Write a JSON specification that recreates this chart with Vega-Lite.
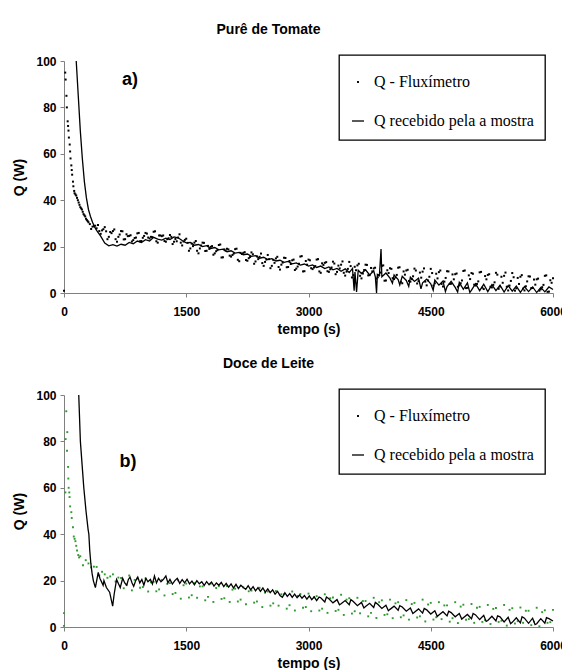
{
  "$schema": "https://vega.github.io/schema/vega-lite/v6.json",
  "background": "white",
  "padding": {"left": 12, "top": 23, "right": 0, "bottom": 0},
  "spacing": 21,
  "config": {
    "view": {"stroke": null},
    "font": "Liberation Sans",
    "axis": {"grid": false, "domainColor": "#808080", "domainWidth": 1, "tickColor": "#808080", "tickSize": 4, "labelFont": "Liberation Sans", "labelFontSize": 12, "labelFontWeight": "bold", "labelColor": "#000000", "titleFont": "Liberation Sans", "titleFontSize": 14, "titleFontWeight": "bold", "titleColor": "#000000", "format": "d"},
    "axisX": {"labelPadding": 9, "titlePadding": 5, "labelFlush": false},
    "axisY": {"labelPadding": 4, "titlePadding": 9},
    "title": {"font": "Liberation Sans", "fontSize": 14, "fontWeight": "bold", "color": "#000000", "anchor": "middle", "frame": "group", "dx": -40, "offset": 17},
    "legend": {"orient": "none", "legendX": 275, "legendY": -6, "strokeColor": "#000000", "strokeWidth": 1.3, "fillColor": "white", "padding": 11, "rowPadding": 23, "titleFontSize": 6, "titlePadding": 2, "labelFont": "Liberation Serif", "labelFontSize": 16, "labelColor": "#000000", "labelOffset": 8, "labelExpr": "datum.label + '\u2002\u2009'", "symbolSize": 144, "symbolStrokeWidth": 1.3, "symbolFillColor": "#000000", "symbolStrokeColor": "#000000"}
  },
  "resolve": {"scale": {"shape": "independent"}, "legend": {"shape": "independent"}},
  "datasets": {
    "fa": [
      {"t":0,"q":1},{"t":15,"q":95},{"t":20,"q":92},{"t":30,"q":85},{"t":35,"q":80},{"t":45,"q":74},{"t":50,"q":72},{"t":55,"q":70},{"t":60,"q":67},{"t":70,"q":64},{"t":75,"q":61},{"t":80,"q":58},{"t":90,"q":55},{"t":95,"q":53},{"t":100,"q":51},{"t":110,"q":48},{"t":115,"q":46},{"t":125,"q":44},{"t":130,"q":43},{"t":140,"q":42.5},{"t":150,"q":42},{"t":160,"q":41},{"t":170,"q":40},{"t":180,"q":39},{"t":190,"q":38},{"t":200,"q":37},{"t":210,"q":36.5},{"t":220,"q":36},{"t":230,"q":35},{"t":240,"q":34},{"t":250,"q":33.5},{"t":260,"q":33},{"t":270,"q":32},{"t":280,"q":31.5},{"t":290,"q":31},
      {"t":300,"q":30.5},{"t":333,"q":27.6},{"t":367,"q":28.8},{"t":400,"q":27.9},{"t":433,"q":26.7},{"t":467,"q":27.0},{"t":500,"q":28.4},{"t":533,"q":23.2},{"t":567,"q":26.3},{"t":600,"q":26.7},{"t":633,"q":23.2},{"t":667,"q":24.2},{"t":700,"q":26.7},{"t":733,"q":23.1},{"t":767,"q":25.3},{"t":800,"q":24.6},{"t":833,"q":22.2},{"t":867,"q":23.7},{"t":900,"q":25.7},{"t":933,"q":22.3},{"t":967,"q":23.8},{"t":1000,"q":25.9},{"t":1033,"q":23.9},{"t":1067,"q":24.2},{"t":1100,"q":26.4},{"t":1133,"q":22.3},{"t":1167,"q":24.8},{"t":1200,"q":24.5},{"t":1233,"q":22.4},{"t":1267,"q":23.2},{"t":1300,"q":25.0},{"t":1333,"q":21.1},{"t":1367,"q":23.3},{"t":1400,"q":23.9},{"t":1433,"q":21.7},{"t":1467,"q":22.2},{"t":1500,"q":23.4},{"t":1533,"q":18.2},{"t":1567,"q":21.3},{"t":1600,"q":21.7},{"t":1633,"q":18.2},{"t":1667,"q":19.2},{"t":1700,"q":21.7},{"t":1733,"q":18.1},{"t":1767,"q":20.3},{"t":1800,"q":19.9},{"t":1833,"q":16.5},{"t":1867,"q":18.0},{"t":1900,"q":20.7},{"t":1933,"q":15.3},{"t":1967,"q":18.8},{"t":2000,"q":19.1},{"t":2033,"q":16.1},{"t":2067,"q":16.4},{"t":2100,"q":18.9},{"t":2133,"q":14.3},{"t":2167,"q":17.3},{"t":2200,"q":17.3},{"t":2233,"q":14.2},{"t":2267,"q":15.0},{"t":2300,"q":17.5},{"t":2333,"q":12.6},{"t":2367,"q":15.8},{"t":2400,"q":15.6},{"t":2433,"q":12.9},{"t":2467,"q":13.4},{"t":2500,"q":16.4},{"t":2533,"q":10.7},{"t":2567,"q":14.3},{"t":2600,"q":14.9},{"t":2633,"q":11.2},{"t":2667,"q":12.2},{"t":2700,"q":15.2},{"t":2733,"q":11.1},{"t":2767,"q":13.8},{"t":2800,"q":14.1},{"t":2833,"q":9.9},{"t":2867,"q":11.4},{"t":2900,"q":15.7},{"t":2933,"q":9.3},{"t":2967,"q":13.8},{"t":3000,"q":14.4},{"t":3033,"q":10.7},{"t":3067,"q":11.0},{"t":3100,"q":14.4},{"t":3133,"q":9.3},{"t":3167,"q":12.8},{"t":3200,"q":13.0},{"t":3233,"q":9.4},{"t":3267,"q":10.2},{"t":3300,"q":13.5},{"t":3333,"q":8.1},{"t":3367,"q":11.8},{"t":3400,"q":12.2},{"t":3433,"q":8.7},{"t":3467,"q":9.2},{"t":3500,"q":13.4},{"t":3533,"q":6.7},{"t":3567,"q":11.3},{"t":3600,"q":11.9},{"t":3633,"q":7.4},{"t":3667,"q":8.4},{"t":3700,"q":12.2},{"t":3733,"q":7.6},{"t":3767,"q":10.8},{"t":3800,"q":10.6},{"t":3833,"q":6.2},{"t":3867,"q":7.7},{"t":3900,"q":11.7},{"t":3933,"q":5.3},{"t":3967,"q":9.8},{"t":4000,"q":10.7},{"t":4033,"q":6.4},{"t":4067,"q":6.7},{"t":4100,"q":10.9},{"t":4133,"q":4.8},{"t":4167,"q":9.3},{"t":4200,"q":9.7},{"t":4233,"q":5.2},{"t":4267,"q":6.0},{"t":4300,"q":10.5},{"t":4333,"q":4.1},{"t":4367,"q":8.8},{"t":4400,"q":9.2},{"t":4433,"q":4.9},{"t":4467,"q":5.4},{"t":4500,"q":10.4},{"t":4533,"q":3.2},{"t":4567,"q":8.3},{"t":4600,"q":9.0},{"t":4633,"q":3.9},{"t":4667,"q":4.9},{"t":4700,"q":9.4},{"t":4733,"q":3.9},{"t":4767,"q":8.0},{"t":4800,"q":8.1},{"t":4833,"q":2.7},{"t":4867,"q":4.2},{"t":4900,"q":9.5},{"t":4933,"q":2.1},{"t":4967,"q":7.6},{"t":5000,"q":8.6},{"t":5033,"q":3.6},{"t":5067,"q":3.9},{"t":5100,"q":8.9},{"t":5133,"q":2.3},{"t":5167,"q":7.3},{"t":5200,"q":7.8},{"t":5233,"q":2.7},{"t":5267,"q":3.5},{"t":5300,"q":8.7},{"t":5333,"q":1.8},{"t":5367,"q":7.0},{"t":5400,"q":7.4},{"t":5433,"q":2.7},{"t":5467,"q":3.2},{"t":5500,"q":8.6},{"t":5533,"q":1.0},{"t":5567,"q":6.5},{"t":5600,"q":7.0},{"t":5633,"q":1.9},{"t":5667,"q":2.9},{"t":5700,"q":7.2},{"t":5733,"q":2.1},{"t":5767,"q":5.8},{"t":5800,"q":5.9},{"t":5833,"q":1.0},{"t":5867,"q":2.5},{"t":5900,"q":7.4},{"t":5933,"q":0.5},{"t":5967,"q":5.5},{"t":6000,"q":6.4},
      {"t":317,"q":29.7},{"t":350,"q":28.6},{"t":383,"q":29.0},{"t":417,"q":29.3},{"t":450,"q":25.5},{"t":483,"q":27.5},{"t":517,"q":26.6},{"t":550,"q":24.2},{"t":583,"q":25.8},{"t":617,"q":27.4},{"t":650,"q":22.1},{"t":683,"q":25.2},{"t":717,"q":26.6},{"t":750,"q":23.2},{"t":783,"q":24.5},{"t":817,"q":24.9},{"t":850,"q":22.8},{"t":883,"q":23.9},{"t":917,"q":25.9},{"t":950,"q":22.4},{"t":983,"q":24.6},{"t":1017,"q":25.6},{"t":1050,"q":23.5},{"t":1083,"q":24.1},{"t":1117,"q":26.6},{"t":1150,"q":21.7},{"t":1183,"q":24.8},{"t":1217,"q":24.8},{"t":1250,"q":22.1},{"t":1283,"q":23.6},{"t":1317,"q":24.2},{"t":1350,"q":22.1},{"t":1383,"q":22.3},{"t":1417,"q":25.3},{"t":1450,"q":20.5},{"t":1483,"q":22.9},{"t":1517,"q":21.6},{"t":1550,"q":19.2},{"t":1583,"q":20.2},{"t":1617,"q":22.4},{"t":1650,"q":17.1},{"t":1683,"q":20.5},{"t":1717,"q":21.6},{"t":1750,"q":18.2},{"t":1783,"q":19.0},{"t":1817,"q":20.2},{"t":1850,"q":17.1},{"t":1883,"q":18.5},{"t":1917,"q":20.9},{"t":1950,"q":15.4},{"t":1983,"q":18.3},{"t":2017,"q":18.8},{"t":2050,"q":15.7},{"t":2083,"q":17.0},{"t":2117,"q":19.1},{"t":2150,"q":13.7},{"t":2183,"q":16.8},{"t":2217,"q":17.6},{"t":2250,"q":13.9},{"t":2283,"q":15.5},{"t":2317,"q":16.7},{"t":2350,"q":13.6},{"t":2383,"q":14.6},{"t":2417,"q":17.0},{"t":2450,"q":11.7},{"t":2483,"q":14.4},{"t":2517,"q":14.6},{"t":2550,"q":11.7},{"t":2583,"q":13.0},{"t":2617,"q":15.6},{"t":2650,"q":10.1},{"t":2683,"q":13.1},{"t":2717,"q":15.1},{"t":2750,"q":11.2},{"t":2783,"q":12.5},{"t":2817,"q":14.4},{"t":2850,"q":10.5},{"t":2883,"q":12.6},{"t":2917,"q":15.9},{"t":2950,"q":9.4},{"t":2983,"q":12.2},{"t":3017,"q":14.1},{"t":3050,"q":10.3},{"t":3083,"q":11.6},{"t":3117,"q":14.6},{"t":3150,"q":8.7},{"t":3183,"q":12.1},{"t":3217,"q":13.3},{"t":3250,"q":9.1},{"t":3283,"q":11.0},{"t":3317,"q":12.7},{"t":3350,"q":9.1},{"t":3383,"q":10.6},{"t":3417,"q":13.6},{"t":3450,"q":7.5},{"t":3483,"q":10.4},{"t":3517,"q":11.6},{"t":3550,"q":7.7},{"t":3583,"q":9.8},{"t":3617,"q":12.6},{"t":3650,"q":6.3},{"t":3683,"q":9.9},{"t":3717,"q":12.1},{"t":3750,"q":7.7},{"t":3783,"q":9.3},{"t":3817,"q":10.9},{"t":3850,"q":6.8},{"t":3883,"q":8.8},{"t":3917,"q":11.9},{"t":3950,"q":5.4},{"t":3983,"q":8.6},{"t":4017,"q":10.4},{"t":4050,"q":6.0},{"t":4083,"q":7.8},{"t":4117,"q":11.1},{"t":4150,"q":4.2},{"t":4183,"q":7.9},{"t":4217,"q":10.0},{"t":4250,"q":4.9},{"t":4283,"q":7.2},{"t":4317,"q":9.7},{"t":4350,"q":5.1},{"t":4383,"q":6.6},{"t":4417,"q":10.6},{"t":4450,"q":3.3},{"t":4483,"q":7.0},{"t":4517,"q":8.6},{"t":4550,"q":4.2},{"t":4583,"q":6.3},{"t":4617,"q":9.7},{"t":4650,"q":2.8},{"t":4683,"q":6.5},{"t":4717,"q":9.3},{"t":4750,"q":4.0},{"t":4783,"q":5.9},{"t":4817,"q":8.4},{"t":4850,"q":3.3},{"t":4883,"q":5.4},{"t":4917,"q":9.7},{"t":4950,"q":2.2},{"t":4983,"q":6.0},{"t":5017,"q":8.3},{"t":5050,"q":3.2},{"t":5083,"q":5.0},{"t":5117,"q":9.1},{"t":5150,"q":1.7},{"t":5183,"q":5.9},{"t":5217,"q":8.1},{"t":5250,"q":2.4},{"t":5283,"q":4.6},{"t":5317,"q":7.9},{"t":5350,"q":2.8},{"t":5383,"q":4.4},{"t":5417,"q":8.8},{"t":5450,"q":1.1},{"t":5483,"q":5.2},{"t":5517,"q":6.8},{"t":5550,"q":2.0},{"t":5583,"q":3.9},{"t":5617,"q":7.7},{"t":5650,"q":1.1},{"t":5683,"q":5.0},{"t":5717,"q":7.1},{"t":5750,"q":2.2},{"t":5783,"q":3.6},{"t":5817,"q":6.2},{"t":5850,"q":1.6},{"t":5883,"q":3.5},{"t":5917,"q":7.6},{"t":5950,"q":0.6},{"t":5983,"q":4.4}
    ],
    "la": [
      {"t":150,"q":100},{"t":175,"q":85},{"t":200,"q":70},{"t":225,"q":58},{"t":250,"q":48},{"t":275,"q":41},{"t":300,"q":36},{"t":325,"q":33},{"t":350,"q":30.5},{"t":375,"q":28.5},{"t":400,"q":27},{"t":450,"q":24.5},{"t":500,"q":21.5},{"t":550,"q":20.3},{"t":600,"q":20.8},{"t":650,"q":20.2},{"t":700,"q":21},{"t":750,"q":20.6},{"t":800,"q":21.8},{"t":850,"q":21.2},{"t":900,"q":22.4},{"t":950,"q":21.8},{"t":1000,"q":23},{"t":1050,"q":22.4},{"t":1100,"q":24},{"t":1150,"q":23.2},{"t":1200,"q":22.8},{"t":1250,"q":23.6},{"t":1300,"q":23},{"t":1350,"q":24.2},{"t":1400,"q":23.8},{"t":1450,"q":22.6},{"t":1500,"q":21.6},{"t":1550,"q":21.8},{"t":1600,"q":20.6},{"t":1650,"q":20.9},{"t":1700,"q":20},{"t":1750,"q":20.4},{"t":1800,"q":19.2},{"t":1850,"q":19.6},{"t":1900,"q":18.6},{"t":1950,"q":18.9},{"t":2000,"q":17.8},{"t":2050,"q":18.2},{"t":2100,"q":17.2},{"t":2150,"q":17.5},{"t":2200,"q":16.5},{"t":2250,"q":16.8},{"t":2300,"q":15.8},{"t":2350,"q":16.1},{"t":2400,"q":15},{"t":2450,"q":15.4},{"t":2500,"q":14.4},{"t":2550,"q":14.8},{"t":2600,"q":13.8},{"t":2650,"q":14.1},{"t":2700,"q":13.2},{"t":2750,"q":13.6},{"t":2800,"q":12.6},{"t":2850,"q":13},{"t":2900,"q":12},{"t":2950,"q":12.5},{"t":3000,"q":11.6},{"t":3050,"q":12.1},{"t":3100,"q":11},{"t":3150,"q":11.6},{"t":3200,"q":10.5},{"t":3250,"q":11.2},{"t":3300,"q":10},{"t":3350,"q":10.6},{"t":3400,"q":9.4},{"t":3450,"q":10.4},{"t":3500,"q":8.8},{"t":3540,"q":10.6},{"t":3560,"q":1},{"t":3570,"q":9},{"t":3590,"q":0.5},{"t":3610,"q":9.8},{"t":3650,"q":8.4},{"t":3700,"q":10},{"t":3750,"q":7.8},{"t":3800,"q":9.6},{"t":3820,"q":7},{"t":3835,"q":0},{"t":3845,"q":8},{"t":3870,"q":7.5},{"t":3890,"q":19},{"t":3900,"q":7},{"t":3950,"q":8.6},{"t":4000,"q":6.4},{"t":4030,"q":4.2},{"t":4050,"q":7.8},{"t":4100,"q":5.8},{"t":4120,"q":3.5},{"t":4150,"q":7.2},{"t":4200,"q":5.4},{"t":4230,"q":2.8},{"t":4250,"q":6.8},{"t":4300,"q":5},{"t":4350,"q":6.4},{"t":4380,"q":1.8},{"t":4400,"q":4.4},{"t":4450,"q":6},{"t":4500,"q":4},{"t":4530,"q":1.2},{"t":4550,"q":5.6},{"t":4600,"q":3.4},{"t":4650,"q":5.2},{"t":4680,"q":0.6},{"t":4700,"q":2.8},{"t":4750,"q":5},{"t":4800,"q":2.4},{"t":4830,"q":0.4},{"t":4850,"q":4.6},{"t":4900,"q":1.6},{"t":4950,"q":4.4},{"t":4980,"q":0.2},{"t":5000,"q":1.2},{"t":5050,"q":4},{"t":5100,"q":1},{"t":5150,"q":3.8},{"t":5200,"q":0.6},{"t":5250,"q":3.6},{"t":5300,"q":1},{"t":5350,"q":3.4},{"t":5400,"q":0.4},{"t":5450,"q":3.2},{"t":5500,"q":0.8},{"t":5550,"q":3},{"t":5600,"q":0.3},{"t":5650,"q":2.8},{"t":5700,"q":0.6},{"t":5750,"q":2.6},{"t":5800,"q":0.2},{"t":5850,"q":2.4},{"t":5900,"q":0.5},{"t":5950,"q":2.6},{"t":6000,"q":1.5}
    ],
    "fb": [
      {"t":0,"q":6},{"t":0,"q":0.5},{"t":17,"q":58},{"t":20,"q":81},{"t":28,"q":93},{"t":37,"q":76},{"t":40,"q":84},{"t":50,"q":69},{"t":53,"q":64},{"t":57,"q":60},{"t":65,"q":58},{"t":68,"q":56},{"t":75,"q":52},{"t":90,"q":49.5},{"t":95,"q":47},{"t":110,"q":43},{"t":120,"q":39},{"t":130,"q":38},{"t":140,"q":37},{"t":150,"q":35},{"t":160,"q":33},{"t":175,"q":31},{"t":185,"q":30},
      {"t":200,"q":30.5},{"t":233,"q":26.6},{"t":267,"q":28.8},{"t":300,"q":27.4},{"t":333,"q":25.7},{"t":367,"q":26.0},{"t":400,"q":25.9},{"t":433,"q":22.2},{"t":467,"q":23.8},{"t":500,"q":22.7},{"t":533,"q":21.2},{"t":567,"q":21.8},{"t":600,"q":22.7},{"t":633,"q":19.6},{"t":667,"q":21.3},{"t":700,"q":21.1},{"t":733,"q":16.7},{"t":767,"q":18.2},{"t":800,"q":22.2},{"t":833,"q":15.8},{"t":867,"q":20.3},{"t":900,"q":20.9},{"t":933,"q":16.9},{"t":967,"q":17.2},{"t":1000,"q":20.9},{"t":1033,"q":15.3},{"t":1067,"q":19.3},{"t":1100,"q":19.5},{"t":1133,"q":15.4},{"t":1167,"q":16.2},{"t":1200,"q":20.3},{"t":1233,"q":13.6},{"t":1267,"q":18.6},{"t":1300,"q":18.9},{"t":1333,"q":14.2},{"t":1367,"q":14.7},{"t":1400,"q":20.1},{"t":1433,"q":12.2},{"t":1467,"q":18.0},{"t":1500,"q":18.7},{"t":1533,"q":12.7},{"t":1567,"q":13.7},{"t":1600,"q":18.9},{"t":1633,"q":12.6},{"t":1667,"q":17.5},{"t":1700,"q":17.5},{"t":1733,"q":11.5},{"t":1767,"q":13.0},{"t":1800,"q":18.7},{"t":1833,"q":10.8},{"t":1867,"q":16.8},{"t":1900,"q":17.6},{"t":1933,"q":12.1},{"t":1967,"q":12.4},{"t":2000,"q":17.7},{"t":2033,"q":10.8},{"t":2067,"q":16.1},{"t":2100,"q":16.5},{"t":2133,"q":11.0},{"t":2167,"q":11.8},{"t":2200,"q":17.1},{"t":2233,"q":9.8},{"t":2267,"q":15.4},{"t":2300,"q":15.7},{"t":2333,"q":10.5},{"t":2367,"q":11.0},{"t":2400,"q":16.9},{"t":2433,"q":8.6},{"t":2467,"q":14.8},{"t":2500,"q":15.3},{"t":2533,"q":9.2},{"t":2567,"q":10.2},{"t":2600,"q":15.5},{"t":2633,"q":9.2},{"t":2667,"q":14.1},{"t":2700,"q":14.1},{"t":2733,"q":7.9},{"t":2767,"q":9.4},{"t":2800,"q":15.3},{"t":2833,"q":7.1},{"t":2867,"q":13.4},{"t":2900,"q":14.2},{"t":2933,"q":8.3},{"t":2967,"q":8.6},{"t":3000,"q":14.4},{"t":3033,"q":6.8},{"t":3067,"q":12.8},{"t":3100,"q":13.3},{"t":3133,"q":7.1},{"t":3167,"q":7.9},{"t":3200,"q":14.1},{"t":3233,"q":6.1},{"t":3267,"q":12.4},{"t":3300,"q":12.7},{"t":3333,"q":6.9},{"t":3367,"q":7.4},{"t":3400,"q":13.9},{"t":3433,"q":5.2},{"t":3467,"q":11.8},{"t":3500,"q":12.4},{"t":3533,"q":5.8},{"t":3567,"q":6.8},{"t":3600,"q":12.6},{"t":3633,"q":5.9},{"t":3667,"q":11.2},{"t":3700,"q":11.2},{"t":3733,"q":4.6},{"t":3767,"q":6.1},{"t":3800,"q":12.6},{"t":3833,"q":3.9},{"t":3867,"q":10.7},{"t":3900,"q":11.5},{"t":3933,"q":5.2},{"t":3967,"q":5.5},{"t":4000,"q":11.8},{"t":4033,"q":3.8},{"t":4067,"q":10.2},{"t":4100,"q":10.7},{"t":4133,"q":4.2},{"t":4167,"q":5.0},{"t":4200,"q":11.6},{"t":4233,"q":3.2},{"t":4267,"q":9.9},{"t":4300,"q":10.4},{"t":4333,"q":4.1},{"t":4367,"q":4.6},{"t":4400,"q":11.8},{"t":4433,"q":2.4},{"t":4467,"q":9.7},{"t":4500,"q":10.4},{"t":4533,"q":3.2},{"t":4567,"q":4.2},{"t":4600,"q":10.7},{"t":4633,"q":3.4},{"t":4667,"q":9.3},{"t":4700,"q":9.3},{"t":4733,"q":2.3},{"t":4767,"q":3.8},{"t":4800,"q":10.7},{"t":4833,"q":1.7},{"t":4867,"q":8.8},{"t":4900,"q":9.6},{"t":4933,"q":3.1},{"t":4967,"q":3.4},{"t":5000,"q":9.9},{"t":5033,"q":1.8},{"t":5067,"q":8.3},{"t":5100,"q":8.7},{"t":5133,"q":2.2},{"t":5167,"q":3.0},{"t":5200,"q":9.5},{"t":5233,"q":1.3},{"t":5267,"q":7.8},{"t":5300,"q":8.2},{"t":5333,"q":2.2},{"t":5367,"q":2.7},{"t":5400,"q":9.5},{"t":5433,"q":0.6},{"t":5467,"q":7.4},{"t":5500,"q":8.1},{"t":5533,"q":1.5},{"t":5567,"q":2.5},{"t":5600,"q":8.4},{"t":5633,"q":1.8},{"t":5667,"q":7.0},{"t":5700,"q":7.0},{"t":5733,"q":0.8},{"t":5767,"q":2.3},{"t":5800,"q":8.3},{"t":5833,"q":0.3},{"t":5867,"q":6.4},{"t":5900,"q":7.2},{"t":5933,"q":1.8},{"t":5967,"q":2.1},{"t":6000,"q":7.4}
    ],
    "lb": [
      {"t":181,"q":100},{"t":201,"q":80},{"t":222,"q":70},{"t":243,"q":60},{"t":270,"q":50},{"t":296,"q":42},{"t":305,"q":40},{"t":316,"q":33},{"t":329,"q":27.5},{"t":345,"q":23},{"t":360,"q":20},{"t":385,"q":17},{"t":420,"q":23.5},{"t":440,"q":21},{"t":480,"q":18},{"t":490,"q":20},{"t":520,"q":17},{"t":560,"q":15},{"t":597,"q":9},{"t":615,"q":14},{"t":645,"q":20.5},{"t":670,"q":18.5},{"t":690,"q":17},{"t":720,"q":21},{"t":745,"q":19},{"t":770,"q":18},{"t":790,"q":20.5},{"t":810,"q":21.5},{"t":835,"q":19},{"t":855,"q":17.5},{"t":880,"q":20},{"t":905,"q":21.5},{"t":930,"q":19},{"t":955,"q":20.5},{"t":980,"q":18},{"t":1005,"q":21},{"t":1030,"q":19.5},{"t":1060,"q":20.5},{"t":1085,"q":18.5},{"t":1110,"q":22},{"t":1135,"q":19},{"t":1160,"q":21},{"t":1190,"q":19.5},{"t":1220,"q":20.5},{"t":1250,"q":22},{"t":1275,"q":19},{"t":1300,"q":20.5},{"t":1330,"q":18.5},{"t":1360,"q":20},{"t":1390,"q":21},{"t":1420,"q":18.8},{"t":1450,"q":20.4},{"t":1480,"q":19},{"t":1510,"q":20.6},{"t":1540,"q":18.6},{"t":1570,"q":19.8},{"t":1600,"q":18.2},{"t":1630,"q":20},{"t":1660,"q":18.6},{"t":1690,"q":19.5},{"t":1720,"q":17.9},{"t":1750,"q":19.6},{"t":1780,"q":18.2},{"t":1810,"q":19.4},{"t":1840,"q":17.6},{"t":1870,"q":19},{"t":1900,"q":18},{"t":1930,"q":19.2},{"t":1960,"q":17.4},{"t":1990,"q":18.8},{"t":2020,"q":17.2},{"t":2050,"q":18.6},{"t":2080,"q":16.8},{"t":2110,"q":18.4},{"t":2140,"q":16.6},{"t":2170,"q":18},{"t":2200,"q":17},{"t":2230,"q":16.2},{"t":2260,"q":17.8},{"t":2290,"q":16},{"t":2320,"q":17.4},{"t":2350,"q":15.6},{"t":2380,"q":17},{"t":2410,"q":15.4},{"t":2440,"q":16.8},{"t":2470,"q":15},{"t":2500,"q":16.4},{"t":2530,"q":14.8},{"t":2560,"q":16},{"t":2590,"q":14.2},{"t":2620,"q":15.4},{"t":2650,"q":13.6},{"t":2680,"q":12.8},{"t":2710,"q":14.8},{"t":2740,"q":13.2},{"t":2770,"q":14.4},{"t":2800,"q":12.8},{"t":2830,"q":14.2},{"t":2860,"q":12.6},{"t":2890,"q":13.8},{"t":2920,"q":12.4},{"t":2950,"q":13.6},{"t":2980,"q":12},{"t":3010,"q":13.4},{"t":3040,"q":11.8},{"t":3070,"q":13},{"t":3100,"q":11.4},{"t":3130,"q":12.9},{"t":3150,"q":12.6},{"t":3200,"q":10.8},{"t":3220,"q":12.9},{"t":3250,"q":12.2},{"t":3300,"q":10.4},{"t":3350,"q":11.8},{"t":3380,"q":9.6},{"t":3400,"q":10},{"t":3450,"q":11.4},{"t":3500,"q":9.6},{"t":3520,"q":11.8},{"t":3550,"q":11},{"t":3600,"q":9.2},{"t":3650,"q":10.6},{"t":3680,"q":8.2},{"t":3700,"q":8.8},{"t":3750,"q":10.2},{"t":3800,"q":8.4},{"t":3820,"q":10.6},{"t":3850,"q":9.8},{"t":3900,"q":8},{"t":3950,"q":9.4},{"t":3980,"q":7.0},{"t":4000,"q":7.6},{"t":4050,"q":9},{"t":4100,"q":7.2},{"t":4120,"q":9.2},{"t":4150,"q":8.6},{"t":4200,"q":6.8},{"t":4250,"q":8.2},{"t":4280,"q":5.8},{"t":4300,"q":6.4},{"t":4350,"q":7.8},{"t":4400,"q":6},{"t":4420,"q":8.0},{"t":4450,"q":7.4},{"t":4500,"q":5.6},{"t":4550,"q":7},{"t":4580,"q":4.6},{"t":4600,"q":5.2},{"t":4650,"q":6.6},{"t":4700,"q":4.8},{"t":4720,"q":6.8},{"t":4750,"q":6.2},{"t":4800,"q":4.4},{"t":4850,"q":5.8},{"t":4880,"q":3.4},{"t":4900,"q":4},{"t":4950,"q":5.4},{"t":5000,"q":3.6},{"t":5020,"q":5.8},{"t":5050,"q":5.2},{"t":5100,"q":3.2},{"t":5150,"q":5},{"t":5180,"q":2.4},{"t":5200,"q":2.8},{"t":5250,"q":4.6},{"t":5300,"q":2.6},{"t":5320,"q":4.8},{"t":5350,"q":4.4},{"t":5400,"q":2.2},{"t":5450,"q":4.2},{"t":5480,"q":1.4},{"t":5500,"q":2},{"t":5550,"q":4},{"t":5600,"q":1.8},{"t":5620,"q":4.4},{"t":5650,"q":3.8},{"t":5700,"q":1.6},{"t":5750,"q":3.8},{"t":5780,"q":1.0},{"t":5800,"q":1.4},{"t":5850,"q":3.6},{"t":5900,"q":1.6},{"t":5920,"q":4.0},{"t":5950,"q":3.6},{"t":6000,"q":2.6}
    ]
  },
  "vconcat": [
    {
      "title": {"text": "Purê de Tomate"},
      "width": 489,
      "height": 232,
      "layer": [
        {
          "data": {"name": "fa"},
          "mark": {"type": "point", "filled": false, "size": 144, "color": "#000000", "strokeWidth": 1.4, "opacity": 1},
          "encoding": {
            "x": {"field": "t", "type": "quantitative", "scale": {"domain": [0, 6000], "nice": false}, "axis": {"values": [0, 1500, 3000, 4500, 6000], "title": "tempo (s)"}},
            "y": {"field": "q", "type": "quantitative", "scale": {"domain": [0, 100], "nice": false}, "axis": {"values": [0, 20, 40, 60, 80, 100], "title": "Q (W)"}},
            "shape": {"datum": "Q - Fluxímetro", "type": "nominal", "scale": {"domain": ["Q - Fluxímetro", "Q recebido pela a mostra"], "range": ["M-0.05,-0.05h0.1v0.1h-0.1z", "M-1,0H1"]}, "legend": {"title": " "}}
          }
        },
        {
          "data": {"name": "la"},
          "mark": {"type": "line", "color": "#000000", "strokeWidth": 1.3},
          "encoding": {"x": {"field": "t", "type": "quantitative"}, "y": {"field": "q", "type": "quantitative"}}
        },
        {
          "data": {"values": [{"t": 712, "q": 89.5, "label": "a)"}]},
          "mark": {"type": "text", "fontSize": 18, "fontWeight": "bold", "font": "Liberation Sans", "align": "left", "baseline": "alphabetic", "color": "#000000"},
          "encoding": {"x": {"field": "t", "type": "quantitative"}, "y": {"field": "q", "type": "quantitative"}, "text": {"field": "label"}}
        }
      ]
    },
    {
      "title": {"text": "Doce de Leite"},
      "width": 489,
      "height": 232,
      "layer": [
        {
          "data": {"name": "fb"},
          "mark": {"type": "point", "filled": false, "size": 144, "color": "#2e9a2e", "strokeWidth": 1.3, "opacity": 1},
          "encoding": {
            "x": {"field": "t", "type": "quantitative", "scale": {"domain": [0, 6000], "nice": false}, "axis": {"values": [0, 1500, 3000, 4500, 6000], "title": "tempo (s)"}},
            "y": {"field": "q", "type": "quantitative", "scale": {"domain": [0, 100], "nice": false}, "axis": {"values": [0, 20, 40, 60, 80, 100], "title": "Q (W)"}},
            "shape": {"datum": "Q - Fluxímetro", "type": "nominal", "scale": {"domain": ["Q - Fluxímetro", "Q recebido pela a mostra"], "range": ["M-0.05,-0.05h0.1v0.1h-0.1z", "M-1,0H1"]}, "legend": {"title": " "}}
          }
        },
        {
          "data": {"name": "lb"},
          "mark": {"type": "line", "color": "#000000", "strokeWidth": 1.3},
          "encoding": {"x": {"field": "t", "type": "quantitative"}, "y": {"field": "q", "type": "quantitative"}}
        },
        {
          "data": {"values": [{"t": 680, "q": 69, "label": "b)"}]},
          "mark": {"type": "text", "fontSize": 18, "fontWeight": "bold", "font": "Liberation Sans", "align": "left", "baseline": "alphabetic", "color": "#000000"},
          "encoding": {"x": {"field": "t", "type": "quantitative"}, "y": {"field": "q", "type": "quantitative"}, "text": {"field": "label"}}
        }
      ]
    }
  ]
}
